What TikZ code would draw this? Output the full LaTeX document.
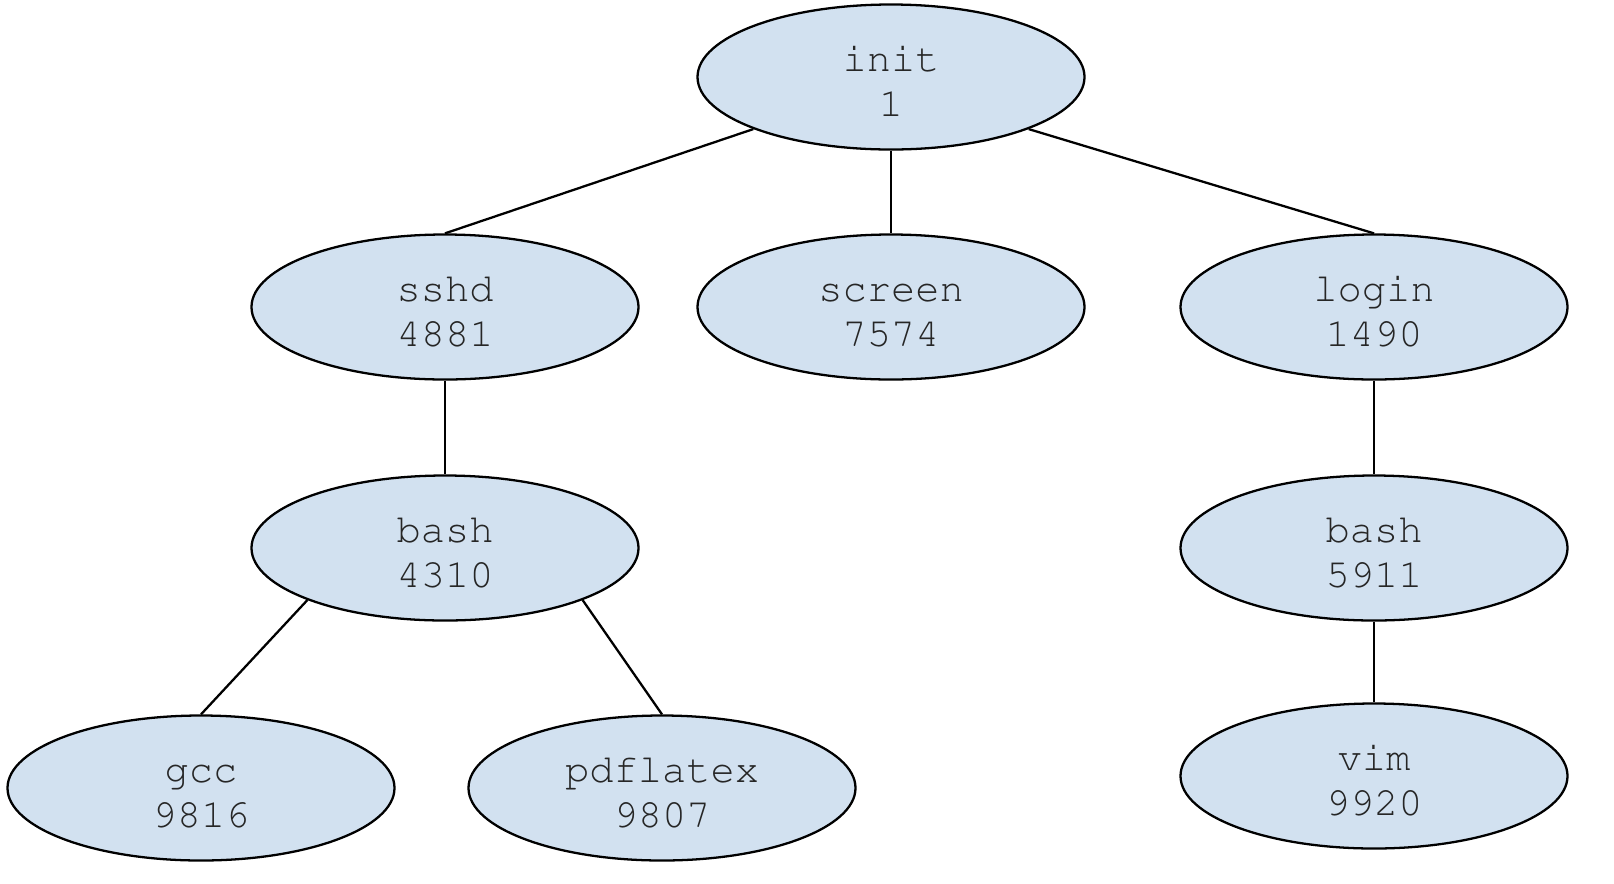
\documentclass[tikz,border=0pt]{standalone}
\usepackage[T1]{fontenc}
\usepackage{courier}
\usepackage{xcolor}
\definecolor{procfill}{RGB}{210,225,240}
\usepackage{tikz}
\usetikzlibrary{shapes.geometric}
\newcommand{\pline}{\rule[-1.2pt]{0pt}{11.8pt}}
\newcommand{\proc}[2]{\pline#1\\\pline#2}

\begin{document}
\begin{tikzpicture}[x=1mm, y=1mm,
      proc/.style={ellipse, draw=black, fill=procfill, line width=0.65pt,
                   minimum width=38.7mm, minimum height=14.5mm, inner sep=0pt,
                   align=center, font=\ttfamily\fontsize{11.5}{12.8}\selectfont,
                   text=black!85},
      lien/.style={line width=0.65pt, color=black}]
    \useasboundingbox (0,0) rectangle (161.4,-88.3);
    \node[proc] (init)   at (89.1,-7.7)   {\proc{init}{1}};
    \node[proc] (sshd)   at (44.5,-30.7)  {\proc{sshd}{4881}};
    \node[proc] (screen) at (89.1,-30.7)  {\proc{screen}{7574}};
    \node[proc] (login)  at (137.4,-30.7) {\proc{login}{1490}};
    \node[proc] (bashA)  at (44.5,-54.8)  {\proc{bash}{4310}};
    \node[proc] (bashB)  at (137.4,-54.8) {\proc{bash}{5911}};
    \node[proc] (gcc)    at (20.1,-78.8)  {\proc{gcc}{9816}};
    \node[proc] (pdftex) at (66.2,-78.8)  {\proc{pdflatex}{9807}};
    \node[proc] (vim)    at (137.4,-77.6) {\proc{vim}{9920}};
    \draw[lien] (init.south west) -- (sshd.north);
    \draw[lien] (init.south)      -- (screen.north);
    \draw[lien] (init.south east) -- (login.north);
    \draw[lien] (sshd.south)      -- (bashA.north);
    \draw[lien] (login.south)     -- (bashB.north);
    \draw[lien] (bashA.south west) -- (gcc.north);
    \draw[lien] (bashA.south east) -- (pdftex.north);
    \draw[lien] (bashB.south)     -- (vim.north);
  \end{tikzpicture}
\end{document}
